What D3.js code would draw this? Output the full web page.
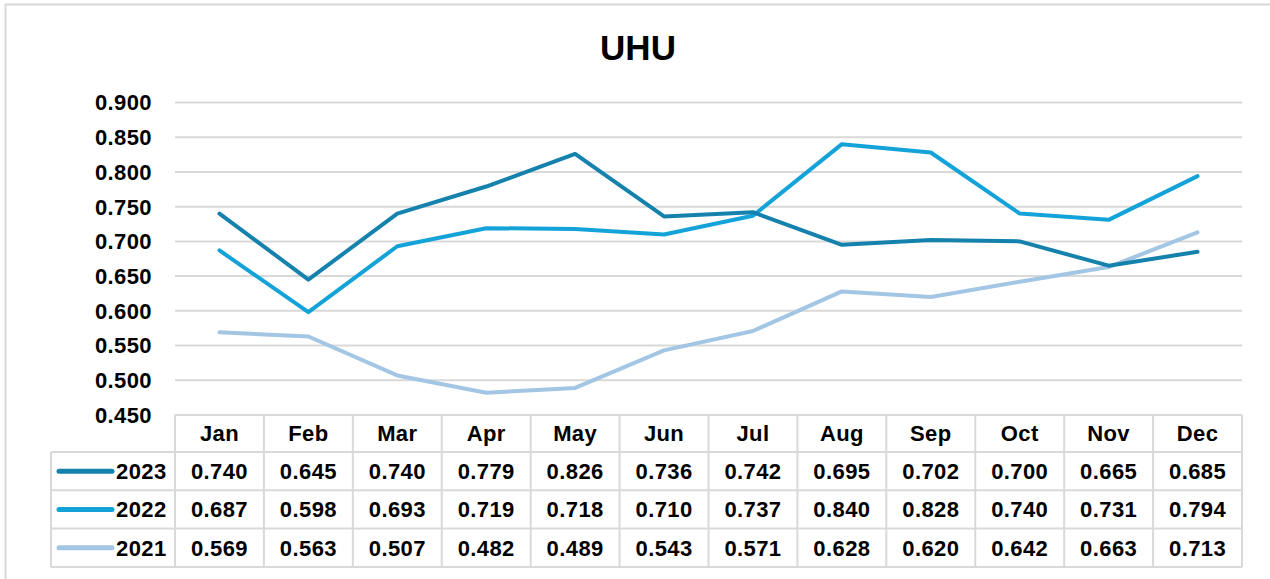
<!DOCTYPE html>
<html>
<head>
<meta charset="utf-8">
<script src="https://cdn.jsdelivr.net/npm/d3@7"></script>
<style>
  body { margin: 0; background: #fff; }
  svg { display: block; font-family: "Liberation Sans", Arial, sans-serif; }
</style>
</head>
<body>
<svg id="chart" width="1270" height="579"></svg>
<script>
var months = ['Jan','Feb','Mar','Apr','May','Jun','Jul','Aug','Sep','Oct','Nov','Dec'];
var years = ['2023','2022','2021'];
var v2023 = [0.740,0.645,0.740,0.779,0.826,0.736,0.742,0.695,0.702,0.700,0.665,0.685];
var v2022 = [0.687,0.598,0.693,0.719,0.718,0.710,0.737,0.840,0.828,0.740,0.731,0.794];
var v2021 = [0.569,0.563,0.507,0.482,0.489,0.543,0.571,0.628,0.620,0.642,0.663,0.713];
var yTicks = [0.45,0.5,0.55,0.6,0.65,0.7,0.75,0.8,0.85,0.9];
var colors = ['#1482ad','#14a3d8','#a3c6e4'];

var series = [v2023, v2022, v2021];

var svg = d3.select('#chart');
var grid = '#d9d9d9';
var fs = 22, ls = '0.4px';

// outer frame (left + top visible)
svg.append('path')
  .attr('d', 'M5.5,579 V4.5 H1270')
  .attr('fill', 'none').attr('stroke', grid).attr('stroke-width', 2);

var x = d3.scaleBand().domain(months).range([175, 1242]);
var y = d3.scaleLinear().domain([0.45, 0.9]).range([415, 102.5]);

// title
svg.append('text')
  .attr('x', 638).attr('y', 60)
  .attr('text-anchor', 'middle')
  .attr('font-size', 35).attr('font-weight', 'bold')
  .text('UHU');

// gridlines
svg.append('g').selectAll('line')
  .data(yTicks.slice(1))
  .enter().append('line')
    .attr('x1', 175).attr('x2', 1242)
    .attr('y1', function(d){ return y(d); })
    .attr('y2', function(d){ return y(d); })
    .attr('stroke', grid).attr('stroke-width', 2);

// y labels
svg.append('g').selectAll('text')
  .data(yTicks)
  .enter().append('text')
    .attr('x', 152)
    .attr('y', function(d){ return y(d); })
    .attr('dy', '0.36em')
    .attr('text-anchor', 'end')
    .attr('font-size', fs).attr('font-weight', 'bold')
    .attr('letter-spacing', ls)
    .text(function(d){ return d3.format('.3f')(d); });

// lines
var line = d3.line()
  .x(function(d, i){ return x(months[i]) + x.bandwidth() / 2; })
  .y(function(d){ return y(d); });

// draw 2021 first so darker ones sit on top
[2, 1, 0].forEach(function(k){
  svg.append('path')
    .datum(series[k])
    .attr('d', line)
    .attr('fill', 'none')
    .attr('stroke', colors[k])
    .attr('stroke-width', 4)
    .attr('stroke-linejoin', 'round')
    .attr('stroke-linecap', 'round');
});

// data table
var rowTop = 415, headH = 37, rowH = 38.3;
var rowY = function(i){ return rowTop + headH + i * rowH; };
var tableBottom = rowY(3);
var t = svg.append('g');

// horizontal lines
t.append('line').attr('x1', 175).attr('x2', 1242).attr('y1', rowTop).attr('y2', rowTop)
  .attr('stroke', grid).attr('stroke-width', 2);
[0, 1, 2, 3].forEach(function(i){
  t.append('line').attr('x1', 51).attr('x2', 1242)
    .attr('y1', rowY(i)).attr('y2', rowY(i))
    .attr('stroke', grid).attr('stroke-width', 2);
});
// vertical lines
months.forEach(function(m){
  t.append('line').attr('x1', x(m)).attr('x2', x(m))
    .attr('y1', rowTop).attr('y2', tableBottom)
    .attr('stroke', grid).attr('stroke-width', 2);
});
t.append('line').attr('x1', 1242).attr('x2', 1242).attr('y1', rowTop).attr('y2', tableBottom)
  .attr('stroke', grid).attr('stroke-width', 2);
t.append('line').attr('x1', 51).attr('x2', 51).attr('y1', rowY(0)).attr('y2', tableBottom)
  .attr('stroke', grid).attr('stroke-width', 2);

// header
t.selectAll('text.month')
  .data(months)
  .enter().append('text')
    .attr('class', 'month')
    .attr('x', function(d){ return x(d) + x.bandwidth() / 2; })
    .attr('y', rowTop + headH / 2)
    .attr('dy', '0.36em')
    .attr('text-anchor', 'middle')
    .attr('font-size', fs).attr('font-weight', 'bold')
    .attr('letter-spacing', ls)
    .text(function(d){ return d; });

// rows
years.forEach(function(yr, i){
  var cy = rowY(i) + rowH / 2;
  t.append('line')
    .attr('x1', 59).attr('x2', 112)
    .attr('y1', cy).attr('y2', cy)
    .attr('stroke', colors[i]).attr('stroke-width', 5)
    .attr('stroke-linecap', 'round');
  t.append('text')
    .attr('x', 116).attr('y', cy).attr('dy', '0.36em')
    .attr('font-size', fs).attr('font-weight', 'bold')
    .attr('letter-spacing', ls)
    .text(yr);
  t.selectAll('text.v' + yr)
    .data(series[i])
    .enter().append('text')
      .attr('class', 'v' + yr)
      .attr('x', function(d, j){ return x(months[j]) + x.bandwidth() / 2; })
      .attr('y', cy).attr('dy', '0.36em')
      .attr('text-anchor', 'middle')
      .attr('font-size', fs).attr('font-weight', 'bold')
      .attr('letter-spacing', ls)
      .text(function(d){ return d3.format('.3f')(d); });
});
</script>
</body>
</html>
